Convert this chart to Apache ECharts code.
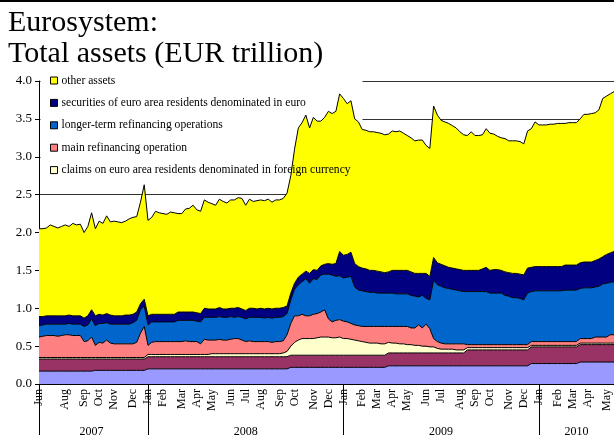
<!DOCTYPE html>
<html><head><meta charset="utf-8">
<script src="https://cdn.jsdelivr.net/npm/echarts@6/dist/echarts.min.js"></script>
<style>html,body{margin:0;padding:0;background:#fff}#c{width:614px;height:440px}</style>
</head><body><div id="c"></div>
<script>
// Weekly Eurosystem balance sheet data (EUR trillion), first week 15 Jun 2007
const firstWeek = [2007, 5, 15];
const monthNames = ['Jan','Feb','Mar','Apr','May','Jun','Jul','Aug','Sep','Oct','Nov','Dec'];

const gold = [
 0.17,0.17,0.17,0.17,0.17,0.17,0.17,0.17,0.17,0.17,
 0.17,0.17,0.17,0.17,0.17,0.18,0.18,0.18,0.18,0.18,
 0.18,0.18,0.18,0.18,0.18,0.18,0.18,0.18,0.18,0.20,
 0.20,0.20,0.20,0.20,0.20,0.20,0.20,0.20,0.20,0.20,
 0.20,0.20,0.20,0.20,0.20,0.20,0.20,0.20,0.20,0.20,
 0.20,0.20,0.20,0.20,0.20,0.20,0.20,0.20,0.20,0.20,
 0.20,0.20,0.20,0.20,0.20,0.20,0.20,0.22,0.22,0.22,
 0.22,0.22,0.22,0.22,0.22,0.22,0.22,0.22,0.22,0.22,
 0.22,0.22,0.22,0.22,0.22,0.22,0.22,0.22,0.22,0.22,
 0.22,0.22,0.22,0.24,0.24,0.24,0.24,0.24,0.24,0.24,
 0.24,0.24,0.24,0.24,0.24,0.24,0.24,0.24,0.24,0.24,
 0.24,0.24,0.24,0.24,0.24,0.24,0.24,0.24,0.24,0.24,
 0.24,0.24,0.24,0.24,0.24,0.24,0.24,0.24,0.24,0.24,
 0.24,0.27,0.27,0.27,0.27,0.27,0.27,0.27,0.27,0.27,
 0.27,0.27,0.27,0.27,0.29,0.29,0.29,0.29,0.29,0.29,
 0.29,0.29,0.29,0.29];
const claimsNonResidents = [
 0.16,0.16,0.16,0.16,0.16,0.16,0.16,0.16,0.16,0.16,
 0.16,0.16,0.16,0.16,0.16,0.15,0.15,0.15,0.15,0.15,
 0.15,0.15,0.15,0.15,0.15,0.15,0.15,0.15,0.15,0.16,
 0.16,0.16,0.16,0.16,0.16,0.16,0.16,0.16,0.16,0.16,
 0.16,0.16,0.16,0.16,0.16,0.16,0.16,0.16,0.16,0.16,
 0.16,0.16,0.16,0.16,0.16,0.16,0.16,0.16,0.16,0.16,
 0.16,0.16,0.16,0.16,0.16,0.16,0.16,0.16,0.16,0.16,
 0.16,0.16,0.16,0.16,0.16,0.16,0.16,0.16,0.16,0.16,
 0.16,0.16,0.16,0.16,0.16,0.16,0.16,0.16,0.16,0.16,
 0.16,0.16,0.16,0.17,0.17,0.17,0.17,0.17,0.17,0.17,
 0.17,0.17,0.17,0.17,0.17,0.17,0.17,0.17,0.17,0.17,
 0.17,0.17,0.17,0.17,0.21,0.21,0.21,0.21,0.21,0.21,
 0.21,0.21,0.21,0.21,0.21,0.21,0.21,0.21,0.21,0.21,
 0.21,0.22,0.22,0.22,0.22,0.22,0.22,0.22,0.22,0.22,
 0.22,0.22,0.22,0.22,0.23,0.23,0.23,0.23,0.23,0.23,
 0.23,0.23,0.23,0.23];
const claimsForeignCcy = [
 0.02,0.02,0.02,0.02,0.02,0.02,0.02,0.02,0.02,0.02,
 0.02,0.02,0.02,0.02,0.02,0.02,0.02,0.02,0.02,0.02,
 0.02,0.02,0.02,0.02,0.02,0.02,0.02,0.02,0.02,0.03,
 0.03,0.03,0.03,0.03,0.03,0.03,0.03,0.03,0.03,0.03,
 0.03,0.03,0.03,0.03,0.03,0.03,0.04,0.04,0.04,0.04,
 0.04,0.04,0.04,0.04,0.04,0.04,0.04,0.04,0.04,0.04,
 0.04,0.04,0.04,0.04,0.04,0.05,0.07,0.12,0.17,0.20,
 0.22,0.22,0.22,0.22,0.23,0.24,0.24,0.24,0.23,0.23,
 0.24,0.22,0.22,0.21,0.20,0.19,0.18,0.17,0.16,0.16,
 0.16,0.15,0.15,0.14,0.13,0.13,0.12,0.12,0.11,0.11,
 0.10,0.10,0.09,0.09,0.08,0.08,0.06,0.05,0.05,0.05,
 0.05,0.04,0.04,0.04,0.03,0.03,0.03,0.03,0.03,0.03,
 0.03,0.03,0.03,0.03,0.03,0.03,0.03,0.03,0.03,0.03,
 0.03,0.02,0.02,0.02,0.02,0.02,0.02,0.02,0.02,0.02,
 0.02,0.02,0.02,0.02,0.02,0.02,0.02,0.02,0.02,0.02,
 0.02,0.02,0.02,0.02];
const mainRefi = [
 0.27,0.28,0.29,0.29,0.29,0.28,0.29,0.30,0.30,0.29,
 0.29,0.29,0.21,0.22,0.27,0.16,0.20,0.19,0.23,0.19,
 0.18,0.18,0.18,0.18,0.18,0.18,0.20,0.32,0.41,0.12,
 0.16,0.17,0.17,0.17,0.17,0.17,0.17,0.17,0.17,0.18,
 0.17,0.17,0.17,0.14,0.20,0.19,0.18,0.18,0.19,0.18,
 0.18,0.19,0.20,0.20,0.18,0.16,0.17,0.16,0.16,0.16,
 0.16,0.16,0.15,0.16,0.16,0.16,0.22,0.30,0.35,0.32,
 0.32,0.30,0.30,0.32,0.32,0.33,0.36,0.24,0.21,0.23,
 0.23,0.23,0.22,0.21,0.20,0.20,0.20,0.21,0.22,0.22,
 0.22,0.23,0.23,0.21,0.22,0.22,0.23,0.23,0.24,0.22,
 0.23,0.27,0.24,0.29,0.24,0.11,0.09,0.08,0.07,0.07,
 0.07,0.08,0.08,0.08,0.04,0.04,0.04,0.04,0.04,0.04,
 0.04,0.04,0.04,0.04,0.04,0.04,0.04,0.04,0.04,0.04,
 0.04,0.05,0.05,0.05,0.05,0.05,0.05,0.05,0.05,0.05,
 0.05,0.05,0.05,0.05,0.06,0.06,0.06,0.06,0.08,0.08,
 0.08,0.08,0.11,0.11];
const longerRefi = [
 0.15,0.15,0.15,0.15,0.15,0.16,0.15,0.14,0.15,0.15,
 0.15,0.15,0.20,0.21,0.24,0.26,0.25,0.26,0.23,0.25,
 0.26,0.26,0.26,0.26,0.26,0.28,0.29,0.31,0.27,0.27,
 0.27,0.26,0.26,0.26,0.26,0.26,0.26,0.28,0.28,0.27,
 0.28,0.28,0.27,0.29,0.29,0.30,0.30,0.30,0.30,0.30,
 0.30,0.30,0.28,0.29,0.30,0.30,0.31,0.32,0.32,0.32,
 0.31,0.32,0.32,0.32,0.32,0.32,0.28,0.31,0.35,0.41,
 0.43,0.49,0.43,0.47,0.45,0.49,0.47,0.59,0.62,0.58,
 0.58,0.57,0.59,0.62,0.50,0.47,0.47,0.46,0.45,0.45,
 0.44,0.44,0.44,0.44,0.44,0.43,0.43,0.43,0.43,0.43,
 0.42,0.37,0.43,0.34,0.38,0.77,0.75,0.75,0.74,0.73,
 0.72,0.71,0.70,0.69,0.70,0.70,0.70,0.70,0.70,0.70,
 0.68,0.68,0.68,0.68,0.65,0.64,0.62,0.62,0.61,0.59,
 0.68,0.66,0.67,0.67,0.67,0.67,0.67,0.67,0.67,0.67,
 0.68,0.68,0.68,0.68,0.66,0.67,0.67,0.67,0.66,0.67,
 0.70,0.71,0.69,0.70];
const securities = [
 0.12,0.11,0.11,0.11,0.11,0.11,0.11,0.11,0.11,0.11,
 0.11,0.11,0.11,0.12,0.12,0.13,0.12,0.11,0.12,0.12,
 0.11,0.11,0.11,0.12,0.12,0.11,0.11,0.08,0.09,0.12,
 0.10,0.10,0.10,0.10,0.10,0.10,0.10,0.11,0.11,0.11,
 0.11,0.11,0.11,0.11,0.12,0.11,0.11,0.11,0.12,0.11,
 0.11,0.11,0.12,0.12,0.11,0.11,0.12,0.12,0.11,0.12,
 0.12,0.12,0.12,0.12,0.12,0.12,0.10,0.09,0.08,0.10,
 0.10,0.10,0.13,0.12,0.12,0.12,0.13,0.14,0.14,0.17,
 0.32,0.30,0.30,0.32,0.31,0.31,0.30,0.30,0.29,0.29,
 0.29,0.28,0.27,0.28,0.30,0.31,0.31,0.31,0.31,0.31,
 0.30,0.31,0.29,0.33,0.31,0.30,0.29,0.29,0.29,0.28,
 0.28,0.28,0.28,0.28,0.28,0.28,0.28,0.28,0.30,0.32,
 0.30,0.31,0.31,0.30,0.31,0.31,0.32,0.32,0.32,0.33,
 0.33,0.32,0.32,0.32,0.32,0.32,0.32,0.32,0.32,0.32,
 0.33,0.33,0.33,0.33,0.34,0.34,0.34,0.34,0.35,0.36,
 0.36,0.38,0.39,0.40];
const otherAssets = [
 1.16,1.16,1.16,1.20,1.18,1.16,1.18,1.20,1.17,1.22,
 1.20,1.21,1.13,1.18,1.28,1.15,1.23,1.21,1.29,1.23,
 1.25,1.24,1.23,1.24,1.27,1.28,1.26,1.34,1.51,1.26,
 1.28,1.36,1.34,1.33,1.32,1.35,1.34,1.30,1.30,1.36,
 1.37,1.41,1.36,1.35,1.43,1.41,1.39,1.37,1.43,1.42,
 1.40,1.43,1.43,1.45,1.46,1.39,1.44,1.41,1.43,1.43,
 1.43,1.44,1.41,1.43,1.43,1.44,1.49,1.55,1.77,1.97,
 2.00,2.06,1.92,2.01,1.97,1.91,1.94,2.01,1.99,2.01,
 2.08,2.07,1.99,2.00,1.91,1.91,1.83,1.83,1.83,1.83,
 1.83,1.83,1.82,1.82,1.84,1.83,1.84,1.81,1.78,1.77,
 1.75,1.76,1.76,1.69,1.69,2.00,1.95,1.90,1.90,1.90,
 1.88,1.86,1.82,1.79,1.78,1.83,1.78,1.78,1.77,1.83,
 1.81,1.79,1.76,1.75,1.76,1.74,1.75,1.75,1.75,1.73,
 1.81,1.83,1.91,1.87,1.87,1.87,1.88,1.88,1.89,1.89,
 1.87,1.88,1.88,1.88,1.90,1.95,1.95,1.96,1.95,1.97,
 2.09,2.09,2.10,2.11];

const seriesNames = [
 'gold and gold receivables',
 'claims on non-euro area residents denominated in foreign currency',
 'claims on euro area residents denominated in foreign currency',
 'main refinancing operation',
 'longer-term refinancing operations',
 'securities of euro area residents denominated in euro',
 'other assets'];
const seriesData = [gold, claimsNonResidents, claimsForeignCcy, mainRefi, longerRefi, securities, otherAssets];
const seriesColors = ['#9999FF','#993366','#FFFFCC','#FF8080','#0066CC','#000080','#FFFF00'];
const legendNames = [seriesNames[6], seriesNames[5], seriesNames[4], seriesNames[3], seriesNames[2]];

// weekly category labels
const weeks = [];
for (let j = 0; j < otherAssets.length; j++) {
  const d = new Date(Date.UTC(firstWeek[0], firstWeek[1], firstWeek[2] + 7 * j));
  weeks.push(d.toISOString().slice(0, 10));
}
const monthStart = new Set(), yearStart = new Set(), yearMid = new Set();
let ys = 0;
weeks.forEach((w, j) => {
  if (j === 0 || w.slice(5, 7) !== weeks[j - 1].slice(5, 7)) monthStart.add(j);
  if (j === 0 || w.slice(0, 4) !== weeks[j - 1].slice(0, 4)) {
    if (j > 0) yearMid.add(Math.round((ys + j - 1) / 2));
    ys = j; yearStart.add(j);
  }
});
yearMid.add(Math.round((ys + weeks.length - 1) / 2));

const FONT = 'Liberation Serif';
const chart = echarts.init(document.getElementById('c'), null, {renderer: 'canvas'});
chart.setOption({
  animation: false,
  backgroundColor: '#fff',
  title: {
    text: 'Eurosystem:\nTotal assets (EUR trillion)',
    left: 3, top: 3,
    textStyle: {fontFamily: FONT, fontSize: 30, fontWeight: 'normal', color: '#000', lineHeight: 31}
  },
  legend: {
    orient: 'vertical', left: 50, top: 74, padding: 0,
    itemWidth: 7, itemHeight: 7, itemGap: 9.4, icon: 'rect',
    itemStyle: {borderColor: '#000', borderWidth: 1},
    textStyle: {fontFamily: FONT, fontSize: 11.6, color: '#000', lineHeight: 13, padding: [0, 0, 0, -1]},
    selectedMode: false,
    data: legendNames
  },
  grid: {left: 39, right: 0, top: 81, bottom: 56},
  graphic: [
    {type: 'rect', shape: {x: 40.5, y: 70, width: 322, height: 116}, style: {fill: '#fff'}, z: 1, silent: true},
    {type: 'line', shape: {x1: 0, y1: 1, x2: 614, y2: 1}, style: {stroke: '#000', lineWidth: 2}, z: 10, silent: true}
  ],
  xAxis: [{
    type: 'category', data: weeks, boundaryGap: false,
    axisLine: {lineStyle: {color: '#000', width: 1}},
    axisTick: {show: true, interval: (i) => yearStart.has(i), length: 51, lineStyle: {color: '#000'}},
    axisLabel: {interval: (i) => monthStart.has(i), rotate: 90, margin: 5, showMinLabel: true,
      padding: [5, 0, 0, 0],
      formatter: (v) => monthNames[+v.slice(5, 7) - 1],
      fontFamily: FONT, fontSize: 12, color: '#000'},
    splitLine: {show: false}
  }, {
    type: 'category', data: weeks, boundaryGap: false, position: 'bottom',
    axisLine: {show: false}, axisTick: {show: false}, splitLine: {show: false},
    axisLabel: {interval: (i) => yearMid.has(i), margin: 42,
      formatter: (v) => v.slice(0, 4), fontFamily: FONT, fontSize: 12, color: '#000'}
  }],
  yAxis: {
    type: 'value', min: 0, max: 4, interval: 0.5,
    axisLine: {show: true, lineStyle: {color: '#000'}},
    axisTick: {show: true, length: 4, lineStyle: {color: '#000'}},
    axisLabel: {formatter: (v) => v.toFixed(1), fontFamily: FONT, fontSize: 13, color: '#000', margin: 7},
    splitLine: {show: true, lineStyle: {color: '#333', width: 1}}
  },
  series: seriesData.map((d, k) => ({
    name: seriesNames[k], type: 'line', stack: 'total', data: d,
    xAxisIndex: 0, symbol: 'none', smooth: false,
    lineStyle: {color: '#000', width: 1},
    itemStyle: {color: seriesColors[k]},
    areaStyle: {color: seriesColors[k], opacity: 1}
  }))
});
</script>
</body></html>
